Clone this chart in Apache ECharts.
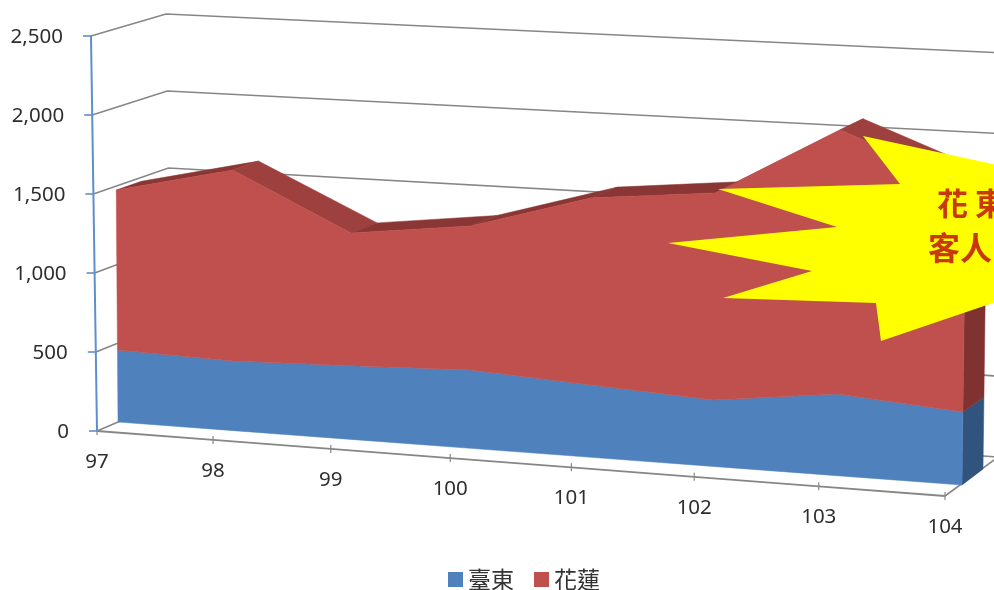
<!DOCTYPE html>
<html><head><meta charset="utf-8">
<style>html,body{margin:0;padding:0;background:#fff}#c{width:994px;height:590px}</style>
<script src="https://cdn.jsdelivr.net/npm/echarts@6/dist/echarts.min.js"></script>
</head><body><div id="c"></div>
<script>
const categories = ['97','98','99','100','101','102','103','104'];
const taitung = [460,441,464,489,448,408,498,442];
const hualien = [1022,1211,835,899,1160,1274,1613,1380];
const valueTicks = [0,500,1000,1500,2000,2500];
const tickLabels = ['0','500','1,000','1,500','2,000','2,500'];
const seriesNames = ['臺東','花蓮'];
const BLUE='#4F81BD', RED='#C0504D', GRID_C='#868686', AXIS_C='#5F8FCB';
const FONT='"Noto Sans",sans-serif', CJK='"Noto Sans CJK TC",sans-serif';

/* flat plane that the hidden axes map to; the perspective is applied to it */
const G={left:100,top:100,width:700,height:350}, N=categories.length-1, VMAX=2500;
/* rails of the 3D box: base line, vertical scale and lean of the verticals at each depth */
const R={
 wall :{x0:97, y0:431,x7:945,y7:496,b:.85,s0:.158, s7:.166, l0:-.0024,l7:.0027},
 front:{x0:118,y0:422,x7:962,y7:485,b:.8, s0:.1565,s7:.165, l0:-.0012,l7:.0021},
 back :{x0:143,y0:411,x7:983,y7:469,b:.55,s0:.155, s7:.163, l0:-.0012,l7:.0021},
 rear :{x0:172,y0:399,x7:998,y7:457,b:.7, s0:.154, s7:.1616,l0:-.0024,l7:.0027}
};
function proj(api,i,v,rail){
  const p=api.coord([i,v]);
  const u=(p[0]-G.left)/G.width*N, val=(G.top+G.height-p[1])/G.height*VMAX;
  const r=R[rail], t=u/N;
  const a=(r.x7-r.x0-N*N*r.b)/N;
  const bx=r.x0+a*u+r.b*u*u;
  const by=r.y0+(r.y7-r.y0)*(bx-r.x0)/(r.x7-r.x0);
  return [bx+val*(r.l0+(r.l7-r.l0)*t), by-val*(r.s0+(r.s7-r.s0)*t)];
}
const line=(pts,c,w,z)=>({type:'polyline',shape:{points:pts},style:{stroke:c,lineWidth:w,fill:null},z2:z||0});
const poly=(pts,c,z)=>({type:'polygon',shape:{points:pts},style:{fill:c,stroke:c,lineWidth:.5},z2:z||0});

function renderGrid(params,api){
  const v=api.value(1), i=params.dataIndex;
  const a=proj(api,0,v,'wall'), b=proj(api,0,v,'rear'), c=proj(api,N,v,'rear');
  const kids=[line([a,b,c],GRID_C,1.6)];
  kids.push(line([[a[0]-8,a[1]],a],AXIS_C,1.6,2));
  if(i===0){
    kids.push(line([proj(api,N,0,'wall'),c],GRID_C,1.6));
    kids.push(line([a,proj(api,0,VMAX,'wall')],AXIS_C,2,3));
  }
  kids.push({type:'text',style:{x:a[0]-28,y:a[1]+1.5,text:tickLabels[i],align:'right',verticalAlign:'middle',
    font:'20.5px '+FONT,fill:'#2E2E2E'}});
  return {type:'group',children:kids};
}
function renderXAxis(params,api){
  const i=params.dataIndex, p=proj(api,i,0,'wall');
  const kids=[line([[p[0],p[1]-4],[p[0],p[1]+4]],GRID_C,1.2)];
  if(i<N) kids.push(line([p,proj(api,i+1,0,'wall')],GRID_C,1.8));
  kids.push({type:'text',style:{x:p[0],y:p[1]+31,text:categories[i],align:'center',verticalAlign:'middle',
    font:'20.5px '+FONT,fill:'#2E2E2E'}});
  return {type:'group',children:kids};
}
function stackedRender(lower,upper,frontColor,sideColor,withTop){
  return function(params,api){
    if(params.dataIndex!==0) return null;
    const kids=[];
    kids.push(poly([proj(api,N,lower[N],'front'),proj(api,N,lower[N],'back'),
                    proj(api,N,upper[N],'back'),proj(api,N,upper[N],'front')],sideColor,1));
    if(withTop){
      for(let i=0;i<N;i++){
        const f0=proj(api,i,upper[i],'front'),f1=proj(api,i+1,upper[i+1],'front'),
              b0=proj(api,i,upper[i],'back'),b1=proj(api,i+1,upper[i+1],'back');
        const col=(f1[1]-f0[1])>10?'#9D403E':'#893634';
        kids.push(poly([f0,f1,b1,b0],col,2));
      }
    }
    const pts=[];
    for(let i=0;i<=N;i++) pts.push(proj(api,i,upper[i],'front'));
    for(let i=N;i>=0;i--) pts.push(proj(api,i,lower[i],'front'));
    kids.push(poly(pts,frontColor,3));
    return {type:'group',children:kids};
  };
}
const zeros=categories.map(()=>0);
const total=taitung.map((v,i)=>v+hualien[i]);
const chart=echarts.init(document.getElementById('c'),null,{renderer:'canvas'});
chart.setOption({
  animation:false,backgroundColor:'#fff',
  grid:{left:G.left,top:G.top,width:G.width,height:G.height},
  xAxis:{type:'category',data:categories,boundaryGap:false,show:false},
  yAxis:{type:'value',min:0,max:VMAX,interval:500,show:false},
  legend:{data:seriesNames,left:443,top:563,itemWidth:15,itemHeight:15,itemGap:20,icon:'rect',
    textStyle:{fontFamily:CJK,fontSize:23,color:'#333'},selectedMode:false},
  tooltip:{show:false},
  series:[
    {type:'custom',silent:true,z:1,renderItem:renderGrid,data:valueTicks.map(v=>[0,v]),encode:{x:0,y:1},clip:false},
    {type:'custom',silent:true,z:1,renderItem:renderXAxis,data:categories.map((c,i)=>[i,0]),encode:{x:0,y:1},clip:false},
    {type:'custom',name:seriesNames[0],silent:true,z:2,itemStyle:{color:BLUE},
      renderItem:stackedRender(zeros,taitung,BLUE,'#31547E',false),
      data:taitung.map((v,i)=>[i,v]),encode:{x:0,y:1},clip:false},
    {type:'custom',name:seriesNames[1],silent:true,z:3,itemStyle:{color:RED},
      renderItem:stackedRender(taitung,total,RED,'#7F3230',true),
      data:total.map((v,i)=>[i,v]),encode:{x:0,y:1},clip:false}
  ],
  graphic:[
    {type:'polygon',z:100,silent:true,shape:{points:[[863,136],[900,184],[718,189],[837,227],[668,243],[812,271],[723,298],[876,303],[881,341],[984,306],[1020,294],[1020,170]]},
      style:{fill:'#FFFF00'}},
    {type:'text',z:101,silent:true,style:{x:937,y:203,text:'花',font:'bold 31px '+CJK,fill:'#C8380A',align:'left',verticalAlign:'middle'}},
    {type:'text',z:101,silent:true,style:{x:975,y:203,text:'東',font:'bold 31px '+CJK,fill:'#C8380A',align:'left',verticalAlign:'middle'}},
    {type:'text',z:101,silent:true,style:{x:928,y:248,text:'客人',font:'bold 32px '+CJK,fill:'#C8380A',align:'left',verticalAlign:'middle'}}
  ]
});
</script></body></html>
